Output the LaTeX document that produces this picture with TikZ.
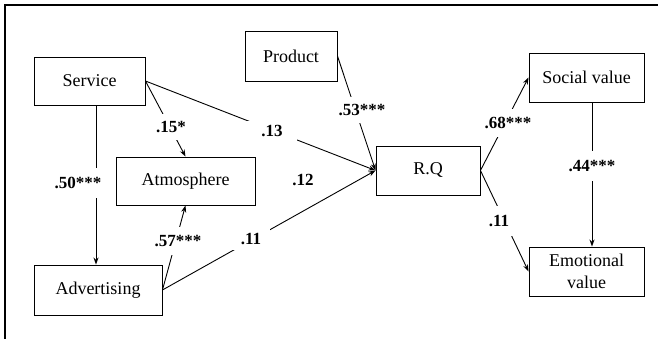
\documentclass[tikz,border=0pt]{standalone}
\usepackage{fontspec}
\setmainfont{Liberation Serif}
\usetikzlibrary{arrows.meta}
\begin{document}
\begin{tikzpicture}[x=1pt,y=-1pt,
  box/.style={draw,line width=0.9pt,inner sep=0pt,align=center,font=\fontsize{18}{22}\selectfont},
  conn/.style={line width=0.9pt},
  arr/.style={conn,-{Stealth[length=7pt,width=5pt]}},
  lab/.style={fill=white,inner xsep=5pt,inner ysep=7pt,font=\bfseries\fontsize{17}{20}\selectfont}]
\useasboundingbox (0,0) rectangle (662,339);
\draw[line width=1.2pt] (5,339) -- (5,5) -- (658,5);
\node[box,minimum width=111pt,minimum height=48pt] (S) at (89.5,81) {Service};
\node[box,minimum width=92pt,minimum height=50pt] (P) at (291,56) {Product};
\node[box,minimum width=139pt,minimum height=48pt] (A) at (185.5,181) {Atmosphere};
\node[box,minimum width=128pt,minimum height=50pt] (D) at (98,290) {Advertising};
\node[box,minimum width=104pt,minimum height=49pt] (R) at (428,170.5) {R.Q};
\node[box,minimum width=115pt,minimum height=49pt] (SV) at (586.5,77.5) {Social value};
\node[box,minimum width=115pt,minimum height=49pt] (E) at (586.5,271.5) {Emotional\\value};
\draw[arr] (S.east) -- (R.west);
\draw[arr] (S.east) -- (A.north);
\draw[arr] ([xshift=6.5pt]S.south) -- ([xshift=6.5pt]S.south |- D.north);
\draw[arr] (D.east) -- (A.south);
\draw[arr] (D.east) -- (R.west);
\draw[arr] (P.east) -- (R.west);
\draw[arr] (R.east) -- (SV.west);
\draw[arr] (R.east) -- (E.west);
\draw[arr] ([xshift=5.5pt]SV.south) -- ([xshift=5.5pt]E.north);
\node[lab,inner xsep=14pt,inner ysep=4pt] (l13) at (272,131) {.13};
\node[lab,inner xsep=3pt] (l15) at (171,127) {.15*};
\node[lab,inner ysep=9pt] (l50) at (78,183) {.50***};
\node[lab,inner ysep=8pt] (l57) at (178,241) {.57***};
\node[lab,inner xsep=9pt,inner ysep=5pt] (l11a) at (251,239) {.11};
\node[lab] (l12) at (303,180) {.12};
\node[lab,inner ysep=7pt] (l53) at (362,110) {.53***};
\node[lab,inner ysep=8pt] (l68) at (508,123) {.68***};
\node[lab,inner ysep=9pt] (l11b) at (499,221) {.11};
\node[lab,inner ysep=9pt] (l44) at (592,166) {.44***};
\end{tikzpicture}
\end{document}
